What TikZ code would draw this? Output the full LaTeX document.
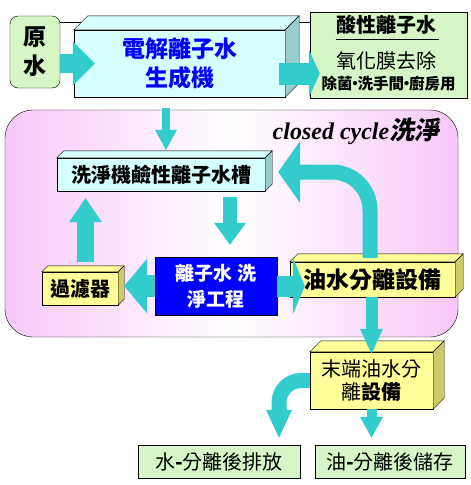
\documentclass[tikz,border=0pt]{standalone}
\usepackage{fontspec}
\setmainfont{Noto Sans CJK TC}
\newfontfamily\latinserif{Liberation Serif}
\newfontfamily\slantcjk{Noto Sans CJK TC}[FakeSlant=0.2]
\usepackage{xcolor}
\usepackage{tikz}
\usetikzlibrary{arrows.meta,positioning}

\definecolor{paleGreen}{RGB}{214,246,198}
\definecolor{flowTeal}{RGB}{51,204,204}
\definecolor{iceCyan}{RGB}{214,255,255}
\definecolor{iceSide}{RGB}{153,204,204}
\definecolor{butterYellow}{RGB}{255,255,153}
\definecolor{butterSide}{RGB}{204,204,102}
\definecolor{cyclePink}{RGB}{248,200,248}

\begin{document}
\begin{tikzpicture}[x=1pt, y=-1pt,
                    greenbox/.style={draw, fill=paleGreen, inner sep=0pt, align=center},
                    cyanface/.style={draw, fill=iceCyan, inner sep=0pt, align=center},
                    yellowface/.style={draw, fill=butterYellow, inner sep=0pt, align=center},
                    flow/.style n args={3}{draw=flowTeal, line width=#1,
                        -{Triangle[width=#2, length=#3, line width=0pt]}},
                   ]

\useasboundingbox (0,0) rectangle (471,485);

% closed cycle area
\draw[left color=cyclePink, right color=cyclePink, middle color=white,
      rounded corners=28pt] (5,110) rectangle (458,337);
\node[font=\bfseries\fontsize{24}{26}\selectfont] (cyclelabel) at (356,131)
     {{\latinserif\itshape closed cycle}{\slantcjk\fontsize{25}{26}\selectfont 洗淨}};

% top row
\node[greenbox, rounded corners=8pt, minimum width=50pt, minimum height=72pt,
      font=\bfseries\fontsize{23}{29}\selectfont] (raw) at (35,52) {原\\水};
\node[greenbox, minimum width=157pt, minimum height=86pt] (acid) at (388.5,55) {};
\draw ([yshift=-6pt]raw.north east) -- ([yshift=-6pt]raw.north east -| acid.west);
\node[cyanface, minimum width=211pt, minimum height=67pt, text=blue,
      font=\bfseries\fontsize{23}{29}\selectfont] (gen) at (179.5,63.5) {電解離子水\\生成機};

\node[inner sep=0pt, font=\bfseries\fontsize{20}{22}\selectfont] (acidtitle) at (386,25) {酸性離子水};
\draw ([yshift=-4pt]acidtitle.south west) -- ([xshift=3pt,yshift=-4pt]acidtitle.south east);
\node[inner sep=0pt, font=\fontsize{20}{22}\selectfont] (acidoxide) at (386.5,61) {氧化膜去除};
\node[inner sep=0pt, font=\bfseries\fontsize{15.5}{17}\selectfont] (aciduse) at (388.5,84)
     {除菌\makebox[5pt]{·}洗手間\makebox[5pt]{·}廚房用};

% washing loop
\node[cyanface, minimum width=208pt, minimum height=33pt,
      font=\bfseries\fontsize{20}{24}\selectfont] (tank) at (161,174.5) {洗淨機鹼性離子水槽};
\node[yellowface, minimum width=76pt, minimum height=33pt,
      font=\bfseries\fontsize{20}{24}\selectfont] (filter) at (80,288.5) {過濾器};
\node[draw, fill=blue, text=white, inner sep=0pt, align=center, minimum width=122pt, minimum height=58pt,
      font=\bfseries\fontsize{19}{26}\selectfont] (wash) at (216,286) {離子水 洗\\淨工程};
\node[yellowface, minimum width=165pt, minimum height=35pt,
      font=\bfseries\fontsize{23}{26}\selectfont] (oilsep) at (372.5,279.5) {油水分離設備};

% end of line
\node[yellowface, minimum width=123pt, minimum height=57pt,
      font=\fontsize{20}{23}\selectfont] (endsep) at (371.5,380.5) {末端油水分\\離\textbf{設備}};
\node[greenbox, minimum width=162pt, minimum height=33pt,
      font=\fontsize{20}{24}\selectfont] (water) at (219,461.5) {水\textbf{-}分離後排放};
\node[greenbox, minimum width=150pt, minimum height=33pt,
      font=\fontsize{20}{24}\selectfont] (oil) at (390,461.5) {油\textbf{-}分離後儲存};

% top and side faces of the boxes
\foreach \bx/\d/\tp/\sd in {gen/14/iceCyan/iceSide, tank/7/iceCyan/iceSide,
                            filter/6/butterYellow/butterSide, oilsep/8/butterYellow/butterSide,
                            endsep/11/butterYellow/butterSide}{
  \draw[fill=\tp] (\bx.north west) -- ++(\d,-\d) -- ([shift={(\d,-\d)}]\bx.north east) -- (\bx.north east) -- cycle;
  \draw[fill=\sd] (\bx.north east) -- ++(\d,-\d) -- ([shift={(\d,-\d)}]\bx.south east) -- (\bx.south east) -- cycle;
}

% flows
\draw[flow={19pt}{44pt}{22pt}] (raw.east |- gen.west) -- ([xshift=21pt]gen.west);
\draw[flow={22pt}{48pt}{11pt}] ([xshift=-6pt,yshift=-10pt]gen.east) -- ([xshift=10pt,yshift=-10pt]gen.east -| acid.west);
\draw[flow={8pt}{22pt}{20pt}] ([xshift=-13.5pt,yshift=-11pt]gen.south) -- ([xshift=-13.5pt,yshift=8pt]gen.south |- tank.north);
\draw[flow={14pt}{32pt}{22pt}] ([xshift=14pt,yshift=-6pt]tank.south -| wash.north) -- ([xshift=14pt,yshift=12pt]wash.north);
\draw[flow={22pt}{55pt}{23pt}] (wash.west) -- ([xshift=6pt]filter.east |- wash.west);
\draw[flow={17pt}{33pt}{24pt}] ([xshift=5.5pt,yshift=10pt]filter.north) -- ([xshift=5.5pt,yshift=-7pt]filter.north |- tank.south);
\draw[flow={21pt}{57pt}{12pt}] (wash.east) -- ([xshift=15pt]oilsep.west |- wash.east);
\draw[flow={15pt}{62pt}{22pt}, rounded corners=38pt] ([xshift=-2.5pt,yshift=4pt]oilsep.north) |- ([xshift=13pt,yshift=2.5pt]tank.east);
\draw[flow={12pt}{23pt}{25pt}] (oilsep.south -| endsep.north) -- ([yshift=-2pt]endsep.north);
\draw[flow={15pt}{26pt}{28pt}, rounded corners=22pt] (endsep.west) -| ([xshift=60pt,yshift=7pt]water.north);
\draw[flow={10pt}{23pt}{21pt}] (endsep.south) -- ([yshift=7pt]endsep.south |- oil.north);

\end{tikzpicture}
\end{document}
